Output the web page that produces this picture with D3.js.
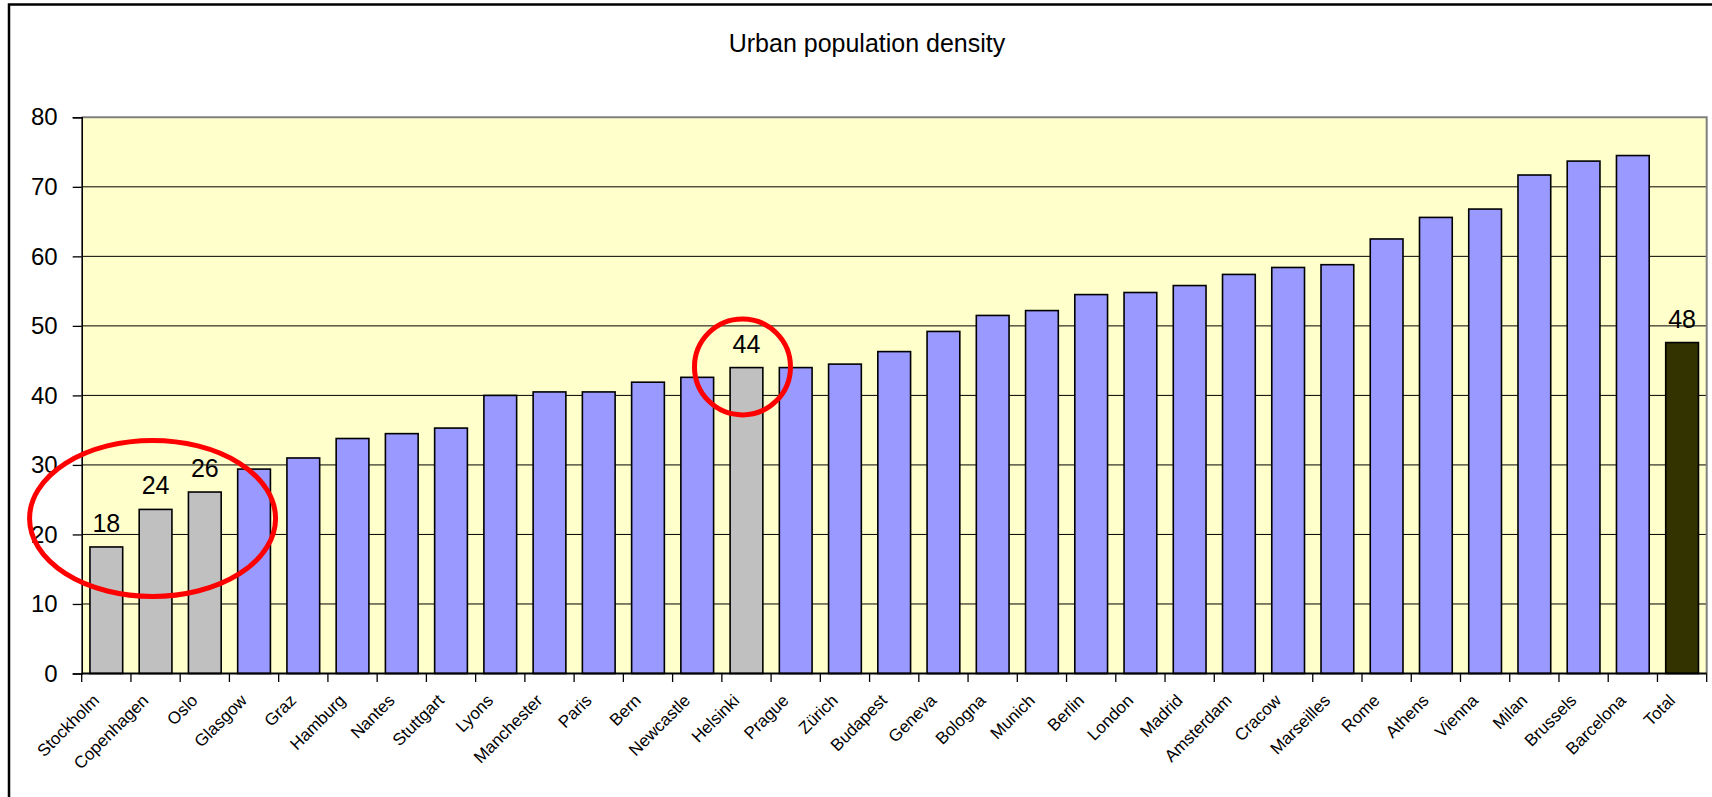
<!DOCTYPE html>
<html>
<head>
<meta charset="utf-8">
<script src="https://cdn.jsdelivr.net/npm/d3@7"></script>
<style>
  html, body { margin: 0; padding: 0; background: #ffffff; }
  svg { display: block; }
  text { font-family: "Liberation Sans", Arial, sans-serif; fill: #000; }
</style>
</head>
<body>
<svg id="chart" width="1712" height="797"></svg>
<script>
// ---------- data ----------
const title = "Urban population density";
const categories = ["Stockholm","Copenhagen","Oslo","Glasgow","Graz","Hamburg","Nantes","Stuttgart","Lyons","Manchester","Paris","Bern","Newcastle","Helsinki","Prague","Zürich","Budapest","Geneva","Bologna","Munich","Berlin","London","Madrid","Amsterdam","Cracow","Marseilles","Rome","Athens","Vienna","Milan","Brussels","Barcelona","Total"];
const values = [18.2, 23.6, 26.1, 29.4, 31.0, 33.8, 34.5, 35.3, 40.0, 40.5, 40.5, 41.9, 42.6, 44.0, 44.0, 44.5, 46.3, 49.2, 51.5, 52.2, 54.5, 54.8, 55.8, 57.4, 58.4, 58.8, 62.5, 65.6, 66.8, 71.7, 73.7, 74.5, 47.6];
const highlighted = ["Stockholm","Copenhagen","Oslo","Helsinki"];
const totalCategory = "Total";
const yTicks = [0, 10, 20, 30, 40, 50, 60, 70, 80];
// annotation marks (red rings), anchored to category / value
const ringWide = { category: "Copenhagen", value: 22.3 };
const ringSmall = { category: "Helsinki", value: 44.1 };

// ---------- layout ----------
const svg = d3.select("#chart");
const plot = { left: 81.7, right: 1706.7, top: 117.3, bottom: 673.5 };

const x = d3.scaleBand()
  .domain(categories)
  .range([plot.left, plot.right])
  .paddingInner(0.335)
  .paddingOuter(0.1675);

const y = d3.scaleLinear()
  .domain([0, 80])
  .range([plot.bottom, plot.top]);

const data = categories.map((c, i) => ({ c, v: values[i] }));

// outer chart border
svg.append("rect")
  .attr("x", 9).attr("y", 4.5)
  .attr("width", 1740).attr("height", 840)
  .attr("fill", "none").attr("stroke", "#000").attr("stroke-width", 2.5);

// title
svg.append("text")
  .attr("x", 867).attr("y", 52)
  .attr("text-anchor", "middle")
  .style("font-size", "25px")
  .text(title);

// plot background
svg.append("rect")
  .attr("x", plot.left).attr("y", plot.top)
  .attr("width", plot.right - plot.left).attr("height", plot.bottom - plot.top)
  .attr("fill", "#FFFFCC");

// gridlines
svg.append("g").selectAll("line")
  .data(yTicks.filter(t => t > 0 && t < 80))
  .join("line")
  .attr("x1", plot.left).attr("x2", plot.right)
  .attr("y1", d => y(d)).attr("y2", d => y(d))
  .attr("stroke", "#000").attr("stroke-width", 1);

// plot frame top/right (gray)
svg.append("path")
  .attr("d", `M${plot.left},${y(80)}H${plot.right}V${plot.bottom}`)
  .attr("fill", "none").attr("stroke", "#808080").attr("stroke-width", 2);

// bars
svg.append("g").selectAll("rect")
  .data(data)
  .join("rect")
  .attr("x", d => x(d.c))
  .attr("y", d => y(d.v))
  .attr("width", x.bandwidth())
  .attr("height", d => y(0) - y(d.v))
  .attr("fill", d => d.c === totalCategory ? "#333300" : (highlighted.includes(d.c) ? "#C0C0C0" : "#9999FF"))
  .attr("stroke", "#000").attr("stroke-width", 1.6);

// y axis
const yAxis = svg.append("g")
  .attr("transform", `translate(${plot.left},0)`)
  .call(d3.axisLeft(y).tickValues(yTicks).tickSize(9).tickPadding(15).tickFormat(d3.format("d")));
yAxis.select(".domain").attr("stroke", "#000").attr("stroke-width", 1.6);
yAxis.selectAll(".tick line").attr("stroke", "#000").attr("stroke-width", 1.3);
yAxis.selectAll(".tick text")
  .style("font-size", "24px")
  .style("font-family", "'Liberation Sans', Arial, sans-serif")
  .attr("fill", "#000");

// x axis: line, boundary ticks, rotated labels
const step = x.step();
const half = step * x.paddingInner() / 2;
const bounds = categories.map(c => x(c) - half).concat([x(categories[categories.length - 1]) + x.bandwidth() + half]);

const xg = svg.append("g");
xg.append("line")
  .attr("x1", plot.left).attr("x2", plot.right)
  .attr("y1", plot.bottom).attr("y2", plot.bottom)
  .attr("stroke", "#000").attr("stroke-width", 2);
xg.selectAll("line.tk")
  .data(bounds)
  .join("line").attr("class", "tk")
  .attr("x1", d => d).attr("x2", d => d)
  .attr("y1", plot.bottom).attr("y2", plot.bottom + 8.5)
  .attr("stroke", "#000").attr("stroke-width", 1.3);
xg.selectAll("text")
  .data(categories)
  .join("text")
  .attr("text-anchor", "end")
  .attr("transform", c => `translate(${x(c) + x.bandwidth() / 2 - 6},${plot.bottom + 28}) rotate(-45)`)
  .style("font-size", "17px")
  .text(c => c);

// data labels for highlighted bars and total
svg.append("g").selectAll("text")
  .data(data.filter(d => highlighted.includes(d.c) || d.c === totalCategory))
  .join("text")
  .attr("x", d => x(d.c) + x.bandwidth() / 2)
  .attr("y", d => y(d.v) - 15)
  .attr("text-anchor", "middle")
  .style("font-size", "25px")
  .text(d => Math.round(d.v));

// red annotation rings
svg.append("ellipse")
  .attr("cx", x(ringWide.category) + x.bandwidth() / 2 - 3)
  .attr("cy", y(ringWide.value))
  .attr("rx", 123).attr("ry", 78)
  .attr("fill", "none").attr("stroke", "#FF0000").attr("stroke-width", 5);
svg.append("ellipse")
  .attr("cx", x(ringSmall.category) + x.bandwidth() / 2 - 4)
  .attr("cy", y(ringSmall.value))
  .attr("rx", 48).attr("ry", 48)
  .attr("fill", "none").attr("stroke", "#FF0000").attr("stroke-width", 5);
</script>
</body>
</html>
